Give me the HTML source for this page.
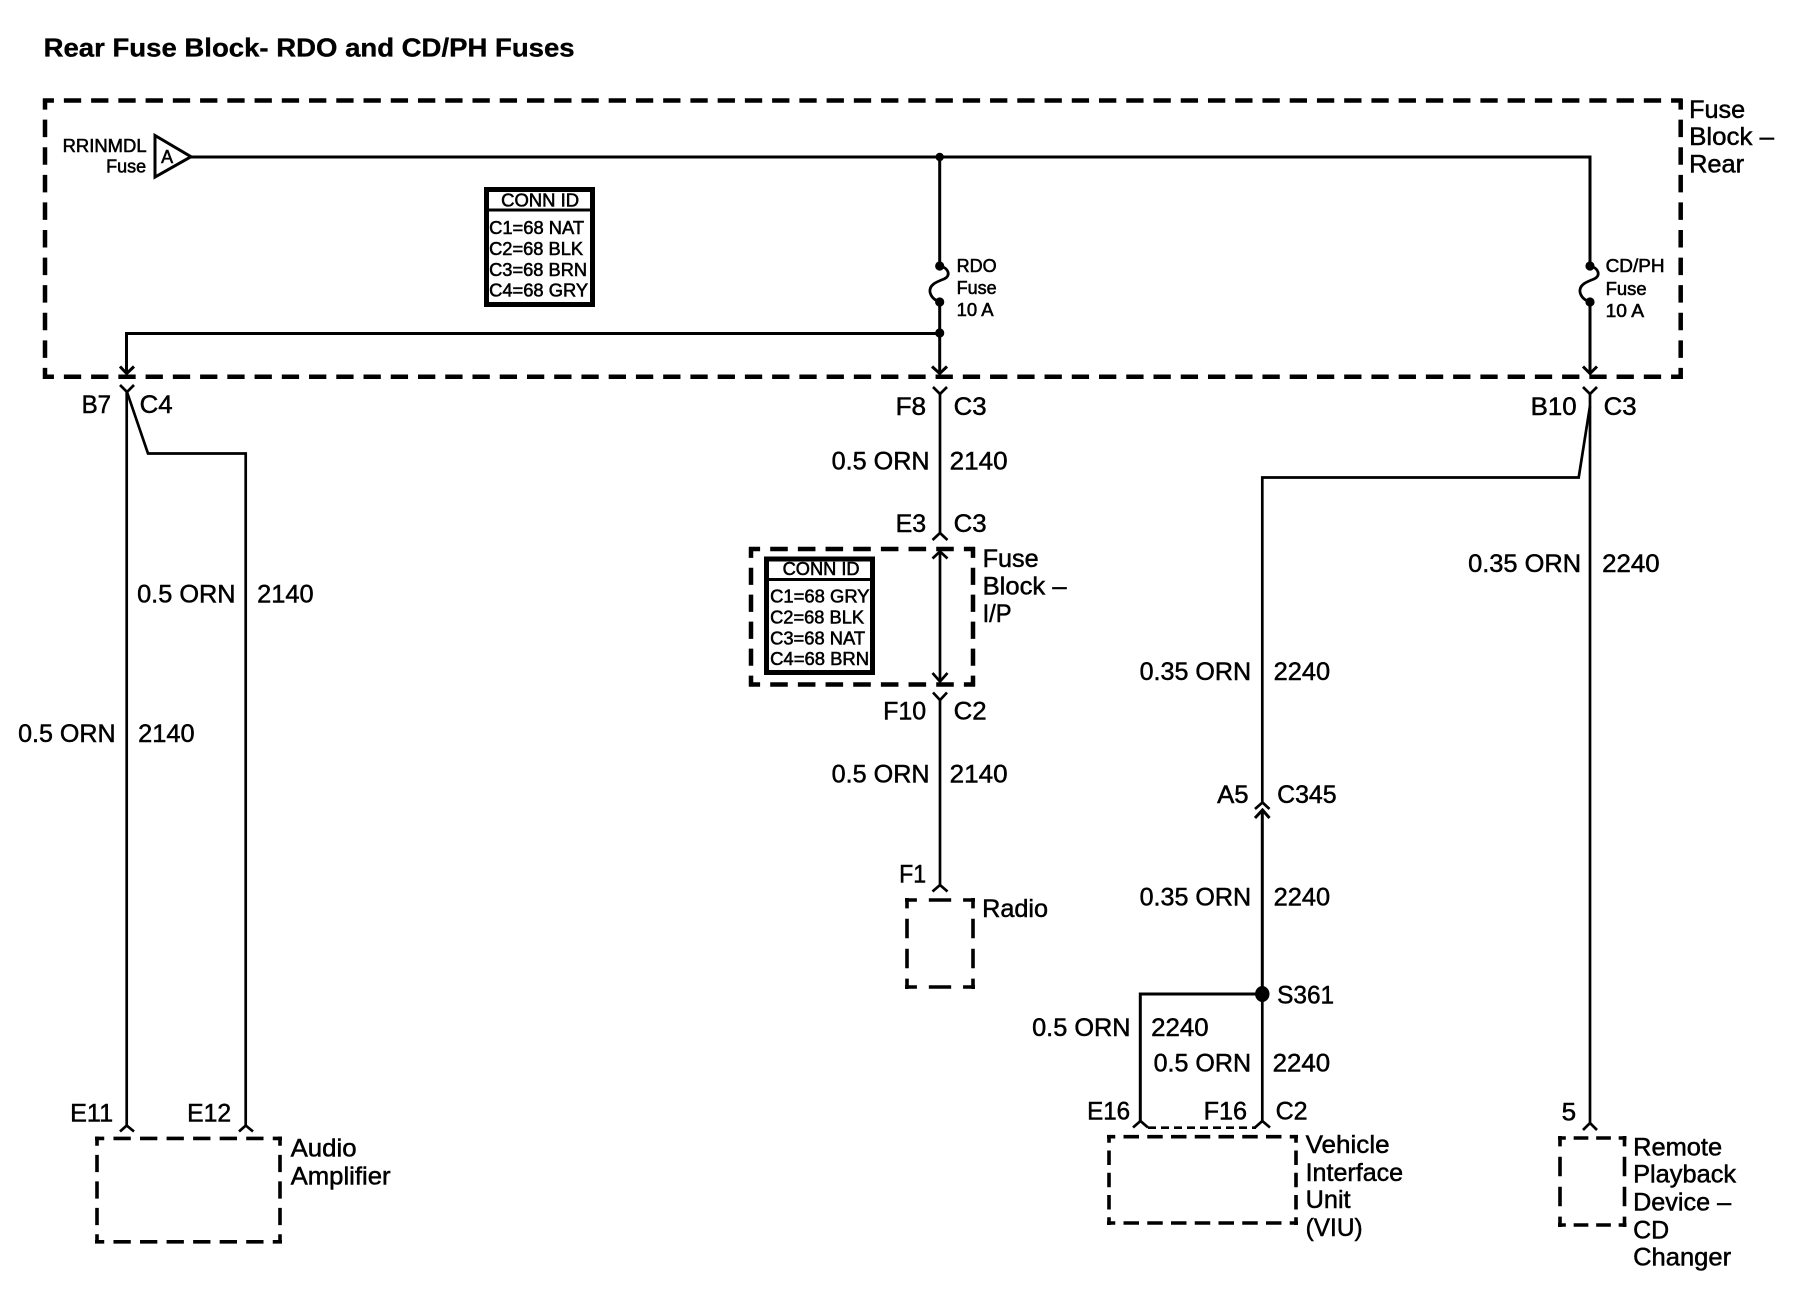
<!DOCTYPE html>
<html><head><meta charset="utf-8"><title>Rear Fuse Block- RDO and CD/PH Fuses</title>
<style>
html,body{margin:0;padding:0;background:#fff}
svg{display:block}
text{font-family:"Liberation Sans",Arial,sans-serif;fill:#000;stroke:#000;stroke-width:.5px;font-size:25px;transform:translateX(-.9px)}
.s{font-size:18px;stroke-width:.55px}
.t{font-size:26px;font-weight:bold;stroke-width:.35px}
.w{fill:none;stroke:#000;stroke-width:3}
.v{fill:none;stroke:#000;stroke-width:2.7}
.h{fill:none;stroke:#000;stroke-width:2.8}
.a{stroke:#000;stroke-width:4.5;fill:none;stroke-dasharray:17.4 10;stroke-dashoffset:6.4}
.b{stroke:#000;stroke-width:3.6;fill:none;stroke-dasharray:15 8;stroke-dashoffset:7}
</style></head><body>
<svg xmlns="http://www.w3.org/2000/svg" width="1798" height="1312" viewBox="0 0 1798 1312">
<rect width="1798" height="1312" fill="#fff"/>
<text class="t" x="44.5" y="56.5" textLength="531" lengthAdjust="spacingAndGlyphs">Rear Fuse Block- RDO and CD/PH Fuses</text>

<!-- main dashed box -->
<path class="a" pathLength="1648.6" d="M43 100.5H1682"/>
<path class="a" pathLength="1648.6" d="M43 376.7H1682"/>
<path class="a" pathLength="278.6" d="M45 98.5V379"/>
<path class="a" pathLength="278.6" d="M1680.7 98.5V379"/>

<!-- fuse block I/P -->
<path class="a" pathLength="223.8" d="M749 549H975"/>
<path class="a" pathLength="223.8" d="M749 684.5H975"/>
<path class="a" pathLength="141.6" d="M751 547V686.5"/>
<path class="a" pathLength="141.6" d="M973 547V686.5"/>

<!-- component boxes -->
<path class="b" pathLength="162" d="M95 1138.4H282"/><path class="b" pathLength="162" d="M95 1241.8H282"/>
<path class="b" pathLength="93" d="M97 1136.5V1243.5"/><path class="b" pathLength="93" d="M280 1136.5V1243.5"/>

<path class="b" pathLength="47" d="M905 900H975"/><path class="b" pathLength="47" d="M905 987H975"/>
<path class="b" pathLength="70" d="M907 898V989"/><path class="b" pathLength="70" d="M973 898V989"/>

<path class="b" pathLength="185" d="M1107 1136.7H1298"/><path class="b" pathLength="185" d="M1107 1223H1298"/>
<path class="b" pathLength="93" d="M1109 1135V1225"/><path class="b" pathLength="93" d="M1296 1135V1225"/>

<path class="b" pathLength="70" d="M1558 1138H1626.5"/><path class="b" pathLength="70" d="M1558 1225H1626.5"/>
<path class="b" pathLength="70" d="M1560 1136V1227"/><path class="b" pathLength="70" d="M1624.5 1136V1227"/>

<!-- source triangle -->
<path d="M155 135.5V177L191 156.7Z" fill="#fff" stroke="#000" stroke-width="3"/>
<text class="s" x="162" y="163" textLength="12" lengthAdjust="spacingAndGlyphs">A</text>
<text class="s" x="63.5" y="152" textLength="84" lengthAdjust="spacingAndGlyphs">RRINMDL</text>
<text class="s" x="107" y="172.5" textLength="40" lengthAdjust="spacingAndGlyphs">Fuse</text>

<!-- top wires -->
<path class="w" d="M191 157H1590V266"/>
<path class="w" d="M939.7 157V266"/>
<path class="w" d="M939.7 302V373"/>
<path class="w" d="M1590 302V373"/>
<path class="w" d="M939.7 333.5H126.5V373"/>
<circle cx="939.7" cy="157" r="4.2"/><circle cx="939.7" cy="266" r="4.6"/><circle cx="939.7" cy="302" r="4.6"/><circle cx="939.7" cy="333" r="4.6"/>
<circle cx="1590" cy="266" r="4.6"/><circle cx="1590" cy="302" r="4.6"/>
<path class="h" d="M940 266C949 268 951 276 944 279C936 282 929 285 930 292C931 297 934 300 940 302"/>
<path class="h" d="M1590 266C1599 268 1601 276 1594 279C1586 282 1579 285 1580 292C1581 297 1584 300 1590 302"/>

<!-- arrowheads into box -->
<path class="w" d="M120 366.5L126.7 373.5L134 366.5"/>
<path class="w" d="M932 366.5L939.7 373.5L947 366.5"/>
<path class="w" d="M1583 366.5L1590 373.5L1597 366.5"/>
<!-- Y connectors -->
<path class="v" d="M120 385L127 392L134 385"/>
<path class="v" d="M933 387L940 394L947 387"/>
<path class="v" d="M1583 387L1590 394L1597 387"/>

<!-- left wires -->
<path class="v" d="M126.7 392V1125"/>
<path class="v" d="M127 392L148 453.5H245.7V1125"/>
<path class="v" d="M120 1131.5L126.7 1125.5L134 1131.5"/>
<path class="v" d="M239 1131.5L245.7 1125.5L253 1131.5"/>

<!-- center wires -->
<path class="v" d="M940 394V533"/>
<path class="v" d="M932.5 540L940 533L947.5 540"/>
<path class="v" d="M940 552V682"/>
<path class="v" d="M932.5 558.5L940 551.5L947.5 558.5"/>
<path class="v" d="M932.5 673L940 681.5L947.5 673"/>
<path class="v" d="M933 692.5L940 700L947 692.5"/>
<path class="v" d="M940 700V885"/>
<path class="v" d="M932.5 891.5L940 885L947.5 891.5"/>

<!-- right wires -->
<path class="v" d="M1590 394V1123"/>
<path class="v" d="M1583 1130L1590 1123L1597 1130"/>
<path class="v" d="M1590 406L1578.7 477.5H1262.3V803"/>
<path class="v" d="M1255 809L1262.5 802.5L1269.5 809"/>
<path class="w" d="M1255 818L1262.5 810L1269.5 818"/>
<path class="w" d="M1262.3 810V994"/>
<path class="w" d="M1262.3 994H1140.3V1122"/>
<path class="v" d="M1262.3 994V1122"/>
<ellipse cx="1262.3" cy="994" rx="7.2" ry="8"/>
<path class="v" d="M1133 1127.5L1140.5 1121L1148 1127.5"/>
<path class="v" d="M1255 1127.5L1262.3 1121L1270 1127.5"/>
<path d="M1148 1127.7H1256" fill="none" stroke="#000" stroke-width="2.7" stroke-dasharray="8 5"/>

<!-- CONN ID boxes -->
<rect x="486.5" y="189.5" width="106" height="115" fill="#fff" stroke="#000" stroke-width="5"/>
<path d="M486 210H594" stroke="#000" stroke-width="3"/>
<text class="s" x="502" y="206.5" textLength="78" lengthAdjust="spacingAndGlyphs">CONN ID</text>
<text class="s" x="490" y="234" textLength="95" lengthAdjust="spacingAndGlyphs">C1=68 NAT</text>
<text class="s" x="490" y="255" textLength="94" lengthAdjust="spacingAndGlyphs">C2=68 BLK</text>
<text class="s" x="490" y="276" textLength="98" lengthAdjust="spacingAndGlyphs">C3=68 BRN</text>
<text class="s" x="490" y="296.5" textLength="99" lengthAdjust="spacingAndGlyphs">C4=68 GRY</text>

<rect x="766.5" y="559" width="106" height="113.5" fill="#fff" stroke="#000" stroke-width="5"/>
<path d="M766 579.5H874" stroke="#000" stroke-width="3"/>
<text class="s" x="783.5" y="575" textLength="77" lengthAdjust="spacingAndGlyphs">CONN ID</text>
<text class="s" x="771" y="602.5" textLength="99.5" lengthAdjust="spacingAndGlyphs">C1=68 GRY</text>
<text class="s" x="771" y="623.5" textLength="94" lengthAdjust="spacingAndGlyphs">C2=68 BLK</text>
<text class="s" x="771" y="644.5" textLength="95" lengthAdjust="spacingAndGlyphs">C3=68 NAT</text>
<text class="s" x="771" y="665" textLength="99" lengthAdjust="spacingAndGlyphs">C4=68 BRN</text>

<!-- fuse labels -->
<text class="s" x="957.5" y="272" textLength="40" lengthAdjust="spacingAndGlyphs">RDO</text>
<text class="s" x="957.5" y="294" textLength="40" lengthAdjust="spacingAndGlyphs">Fuse</text>
<text class="s" x="957.5" y="316" textLength="37" lengthAdjust="spacingAndGlyphs">10 A</text>
<text class="s" x="1606.5" y="272" textLength="59" lengthAdjust="spacingAndGlyphs">CD/PH</text>
<text class="s" x="1606.5" y="295" textLength="41" lengthAdjust="spacingAndGlyphs">Fuse</text>
<text class="s" x="1606.5" y="317" textLength="38.5" lengthAdjust="spacingAndGlyphs">10 A</text>

<!-- block names -->
<text x="1690" y="118" textLength="56" lengthAdjust="spacingAndGlyphs">Fuse</text>
<text x="1690" y="145" textLength="85" lengthAdjust="spacingAndGlyphs">Block –</text>
<text x="1690" y="172.5" textLength="55" lengthAdjust="spacingAndGlyphs">Rear</text>
<text x="983.5" y="567" textLength="56" lengthAdjust="spacingAndGlyphs">Fuse</text>
<text x="983.5" y="594.5" textLength="84" lengthAdjust="spacingAndGlyphs">Block –</text>
<text x="983.5" y="622" textLength="29" lengthAdjust="spacingAndGlyphs">I/P</text>
<text x="983" y="917" textLength="66" lengthAdjust="spacingAndGlyphs">Radio</text>
<text x="291.5" y="1156.5" textLength="66" lengthAdjust="spacingAndGlyphs">Audio</text>
<text x="291.5" y="1184.5" textLength="100" lengthAdjust="spacingAndGlyphs">Amplifier</text>
<text x="1306.5" y="1153" textLength="84" lengthAdjust="spacingAndGlyphs">Vehicle</text>
<text x="1306.5" y="1181" textLength="97.5" lengthAdjust="spacingAndGlyphs">Interface</text>
<text x="1306.5" y="1208" textLength="45" lengthAdjust="spacingAndGlyphs">Unit</text>
<text x="1306.5" y="1236" textLength="57" lengthAdjust="spacingAndGlyphs">(VIU)</text>
<text x="1634" y="1155.5" textLength="89" lengthAdjust="spacingAndGlyphs">Remote</text>
<text x="1634" y="1182.5" textLength="103" lengthAdjust="spacingAndGlyphs">Playback</text>
<text x="1634" y="1210.5" textLength="98" lengthAdjust="spacingAndGlyphs">Device –</text>
<text x="1634" y="1238.5" textLength="36" lengthAdjust="spacingAndGlyphs">CD</text>
<text x="1634" y="1265.5" textLength="98" lengthAdjust="spacingAndGlyphs">Changer</text>

<!-- pin and connector labels -->
<text x="82.5" y="413" textLength="29.5" lengthAdjust="spacingAndGlyphs">B7</text>
<text x="140.5" y="413" textLength="33" lengthAdjust="spacingAndGlyphs">C4</text>
<text x="896.5" y="415" textLength="30.5" lengthAdjust="spacingAndGlyphs">F8</text>
<text x="954.5" y="415" textLength="33" lengthAdjust="spacingAndGlyphs">C3</text>
<text x="1531.5" y="415" textLength="46" lengthAdjust="spacingAndGlyphs">B10</text>
<text x="1604.5" y="415" textLength="33" lengthAdjust="spacingAndGlyphs">C3</text>
<text x="896.5" y="532" textLength="30.5" lengthAdjust="spacingAndGlyphs">E3</text>
<text x="954.5" y="532" textLength="33" lengthAdjust="spacingAndGlyphs">C3</text>
<text x="884" y="719.5" textLength="43" lengthAdjust="spacingAndGlyphs">F10</text>
<text x="954.5" y="719.5" textLength="33" lengthAdjust="spacingAndGlyphs">C2</text>
<text x="900" y="882.5" textLength="27" lengthAdjust="spacingAndGlyphs">F1</text>
<text x="1218" y="803" textLength="31.5" lengthAdjust="spacingAndGlyphs">A5</text>
<text x="1278" y="803" textLength="59.5" lengthAdjust="spacingAndGlyphs">C345</text>
<text x="1278" y="1003.5" textLength="57" lengthAdjust="spacingAndGlyphs">S361</text>
<text x="71" y="1121.5" textLength="43" lengthAdjust="spacingAndGlyphs">E11</text>
<text x="188" y="1121.5" textLength="44" lengthAdjust="spacingAndGlyphs">E12</text>
<text x="1088" y="1119.5" textLength="43" lengthAdjust="spacingAndGlyphs">E16</text>
<text x="1204.5" y="1119.5" textLength="43.5" lengthAdjust="spacingAndGlyphs">F16</text>
<text x="1276.5" y="1119.5" textLength="32" lengthAdjust="spacingAndGlyphs">C2</text>
<text x="1562.5" y="1120.5" textLength="14.5" lengthAdjust="spacingAndGlyphs">5</text>

<!-- wire labels -->
<text x="138" y="602.5" textLength="98.5" lengthAdjust="spacingAndGlyphs">0.5 ORN</text>
<text x="258" y="602.5" textLength="56.5" lengthAdjust="spacingAndGlyphs">2140</text>
<text x="19" y="742" textLength="97.5" lengthAdjust="spacingAndGlyphs">0.5 ORN</text>
<text x="139" y="742" textLength="56.5" lengthAdjust="spacingAndGlyphs">2140</text>
<text x="832.5" y="469.5" textLength="98" lengthAdjust="spacingAndGlyphs">0.5 ORN</text>
<text x="950.5" y="469.5" textLength="58" lengthAdjust="spacingAndGlyphs">2140</text>
<text x="832.5" y="782.5" textLength="98" lengthAdjust="spacingAndGlyphs">0.5 ORN</text>
<text x="950.5" y="782.5" textLength="58" lengthAdjust="spacingAndGlyphs">2140</text>
<text x="1469" y="572" textLength="113" lengthAdjust="spacingAndGlyphs">0.35 ORN</text>
<text x="1603" y="572" textLength="57.5" lengthAdjust="spacingAndGlyphs">2240</text>
<text x="1140.5" y="680" textLength="111.5" lengthAdjust="spacingAndGlyphs">0.35 ORN</text>
<text x="1274.5" y="680" textLength="56.5" lengthAdjust="spacingAndGlyphs">2240</text>
<text x="1140.5" y="905.5" textLength="111.5" lengthAdjust="spacingAndGlyphs">0.35 ORN</text>
<text x="1274.5" y="905.5" textLength="56.5" lengthAdjust="spacingAndGlyphs">2240</text>
<text x="1033" y="1036" textLength="98.5" lengthAdjust="spacingAndGlyphs">0.5 ORN</text>
<text x="1152" y="1036" textLength="57.5" lengthAdjust="spacingAndGlyphs">2240</text>
<text x="1154.5" y="1071.5" textLength="97.5" lengthAdjust="spacingAndGlyphs">0.5 ORN</text>
<text x="1273.5" y="1071.5" textLength="57.5" lengthAdjust="spacingAndGlyphs">2240</text>
</svg>
</body></html>
